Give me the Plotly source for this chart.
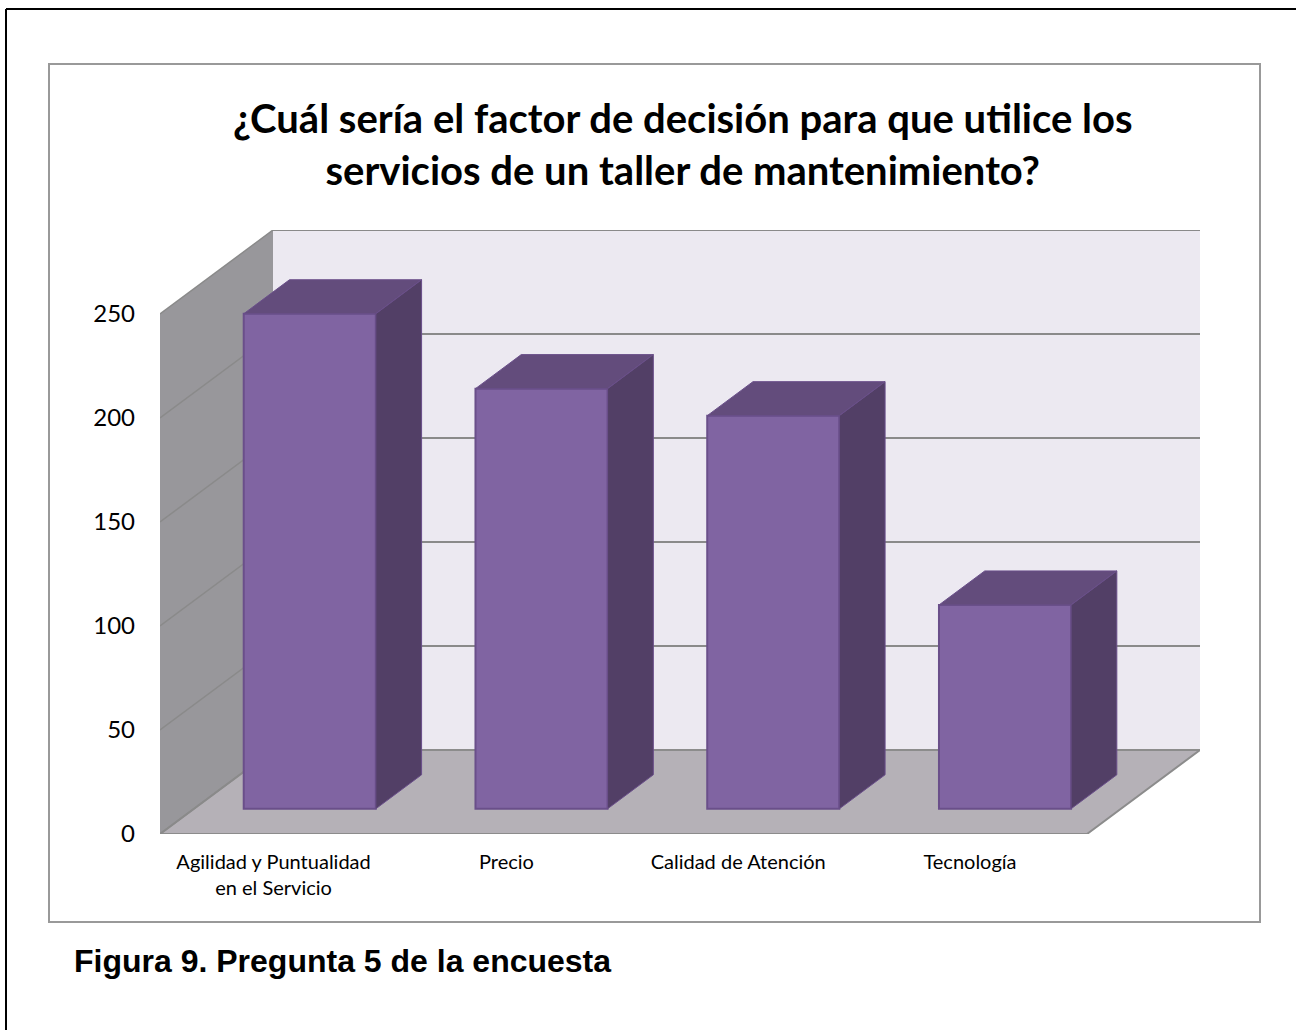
import plotly.graph_objects as go

categorias = ["Agilidad y Puntualidad<br>en el Servicio", "Precio", "Calidad de Atención", "Tecnología"]
valores = [238, 202, 189, 98]
ticks_y = [0, 50, 100, 150, 200, 250]
ticks_x = [0.49, 1.495, 2.495, 3.495]

titulo = "¿Cuál sería el factor de decisión para que utilice los<br>servicios de un taller de mantenimiento?"
pie = "Figura 9. Pregunta 5 de la encuesta"

# area de dibujo en pixeles (plano frontal del grafico 3D)
L, R, T, B = 160, 1200, 230, 834
W, H = 1296, 1030
PX_X = 231.75   # px por categoria
PX_Y = 2.08     # px por unidad

# profundidad de la proyeccion oblicua, en unidades de los ejes
DX = 113 / PX_X
DY = 84 / PX_Y
D_FRENTE, D_FONDO = 0.30, 0.705
ANCHO = 0.57
N = len(categorias)
X_MAX = 4 + DX
Y_MAX = 250 + DY

COL_FRENTE = "#8064A2"
COL_TOP = "#634C7C"
COL_LADO = "#523F66"
COL_BORDE = "#6A4F8A"


def pt(x, y, d=0):
    return x + d * DX, y + d * DY


def poly(puntos):
    xs = [p[0] for p in puntos]
    ys = [p[1] for p in puntos]
    return "M " + " L ".join(f"{a},{b}" for a, b in zip(xs, ys)) + " Z"


def px_x(p):
    return (p - L) / (R - L)


def px_y(p):
    return (B - p) / (B - T)


shapes = []
# pared de fondo, pared lateral y piso
shapes.append(dict(type="path", path=poly([pt(0, 0, 1), pt(4, 0, 1), pt(4, 250, 1), pt(0, 250, 1)]),
                   fillcolor="#ECE9F1", line_width=0, layer="below"))
shapes.append(dict(type="path", path=poly([pt(0, 0), pt(0, 0, 1), pt(0, 250, 1), pt(0, 250)]),
                   fillcolor="#98979B", line_width=0, layer="below"))
shapes.append(dict(type="path", path=poly([pt(0, 0), pt(4, 0), pt(4, 0, 1), pt(0, 0, 1)]),
                   fillcolor="#B5B1B7", line=dict(color="#8C8C8C", width=2), layer="below"))
for v in ticks_y[1:]:
    x0, y0 = pt(0, v)
    x1, y1 = pt(0, v, 1)
    x2, y2 = pt(4, v, 1)
    shapes.append(dict(type="line", x0=x0, y0=y0, x1=x1, y1=y1, line=dict(color="#8A8A8A", width=1.5), layer="below"))
    shapes.append(dict(type="line", x0=x1, y0=y1, x1=x2, y1=y2, line=dict(color="#8A8A8A", width=2), layer="below"))
# diagonal del piso junto a la pared lateral
x0, y0 = pt(0, 0)
x1, y1 = pt(0, 0, 1)
shapes.append(dict(type="line", x0=x0, y0=y0, x1=x1, y1=y1, line=dict(color="#8A8A8A", width=1.5), layer="below"))

# recuadro del grafico y borde negro de la pagina
shapes.append(dict(type="rect", xref="paper", yref="paper", x0=px_x(49), x1=px_x(1260), y0=px_y(922), y1=px_y(64),
                   line=dict(color="#999999", width=2), layer="below"))
shapes.append(dict(type="line", xref="paper", yref="paper", x0=px_x(6), x1=px_x(1296), y0=px_y(9), y1=px_y(9),
                   line=dict(color="black", width=2)))
shapes.append(dict(type="line", xref="paper", yref="paper", x0=px_x(6), x1=px_x(6), y0=px_y(9), y1=px_y(1030),
                   line=dict(color="black", width=2)))

centros = [i + 0.5 + D_FRENTE * DX for i in range(N)]
bases = [D_FRENTE * DY] * N

fig = go.Figure()
fig.add_trace(go.Bar(x=centros, y=valores, base=bases, width=ANCHO,
                     marker=dict(color=COL_FRENTE, line=dict(color=COL_BORDE, width=2)),
                     showlegend=False))

# caras superior y lateral de cada barra
top_x, top_y, lado_x, lado_y = [], [], [], []
prof = D_FONDO - D_FRENTE
for i, v in enumerate(valores):
    xa = centros[i] - ANCHO / 2
    xb = centros[i] + ANCHO / 2
    y0 = bases[i]
    y1 = bases[i] + v
    cara_top = [pt(xa, y1), pt(xb, y1), pt(xb, y1, prof), pt(xa, y1, prof), pt(xa, y1)]
    cara_lado = [pt(xb, y0), pt(xb, y0, prof), pt(xb, y1, prof), pt(xb, y1), pt(xb, y0)]
    top_x += [p[0] for p in cara_top] + [None]
    top_y += [p[1] for p in cara_top] + [None]
    lado_x += [p[0] for p in cara_lado] + [None]
    lado_y += [p[1] for p in cara_lado] + [None]

fig.add_trace(go.Scatter(x=top_x, y=top_y, mode="lines", fill="toself", fillcolor=COL_TOP,
                         line=dict(color=COL_BORDE, width=1), showlegend=False, hoverinfo="skip"))
fig.add_trace(go.Scatter(x=lado_x, y=lado_y, mode="lines", fill="toself", fillcolor=COL_LADO,
                         line=dict(color=COL_BORDE, width=1), showlegend=False, hoverinfo="skip"))

fig.update_layout(
    width=W, height=H, autosize=False,
    margin=dict(l=L, r=W - R, t=T, b=H - B, pad=0),
    paper_bgcolor="white", plot_bgcolor="rgba(0,0,0,0)",
    shapes=shapes, showlegend=False,
    annotations=[
        dict(text="<b>" + titulo + "</b>", xref="paper", yref="paper", x=px_x(682), y=px_y(144),
             xanchor="center", yanchor="middle", showarrow=False, align="center",
             font=dict(family="Lato", size=40, color="black")),
        dict(text="<b>" + pie + "</b>", xref="paper", yref="paper", x=px_x(72), y=px_y(961),
             xanchor="left", yanchor="middle", showarrow=False,
             font=dict(family="Liberation Sans", size=32, color="black")),
    ],
)
fig.update_xaxes(range=[0, X_MAX], tickvals=ticks_x, ticktext=categorias,
                 showgrid=False, zeroline=False, showline=False, ticks="", ticklabelstandoff=14,
                 tickfont=dict(family="Lato", size=20, color="black"), tickangle=0)
fig.update_yaxes(range=[0, Y_MAX], tickvals=ticks_y, showgrid=False, zeroline=False, showline=False,
                 ticks="", ticklabelstandoff=24, tickfont=dict(family="Lato", size=24, color="black"))

fig.write_html("out.html", config=dict(displayModeBar=False), post_script="document.body.style.margin='0';")
